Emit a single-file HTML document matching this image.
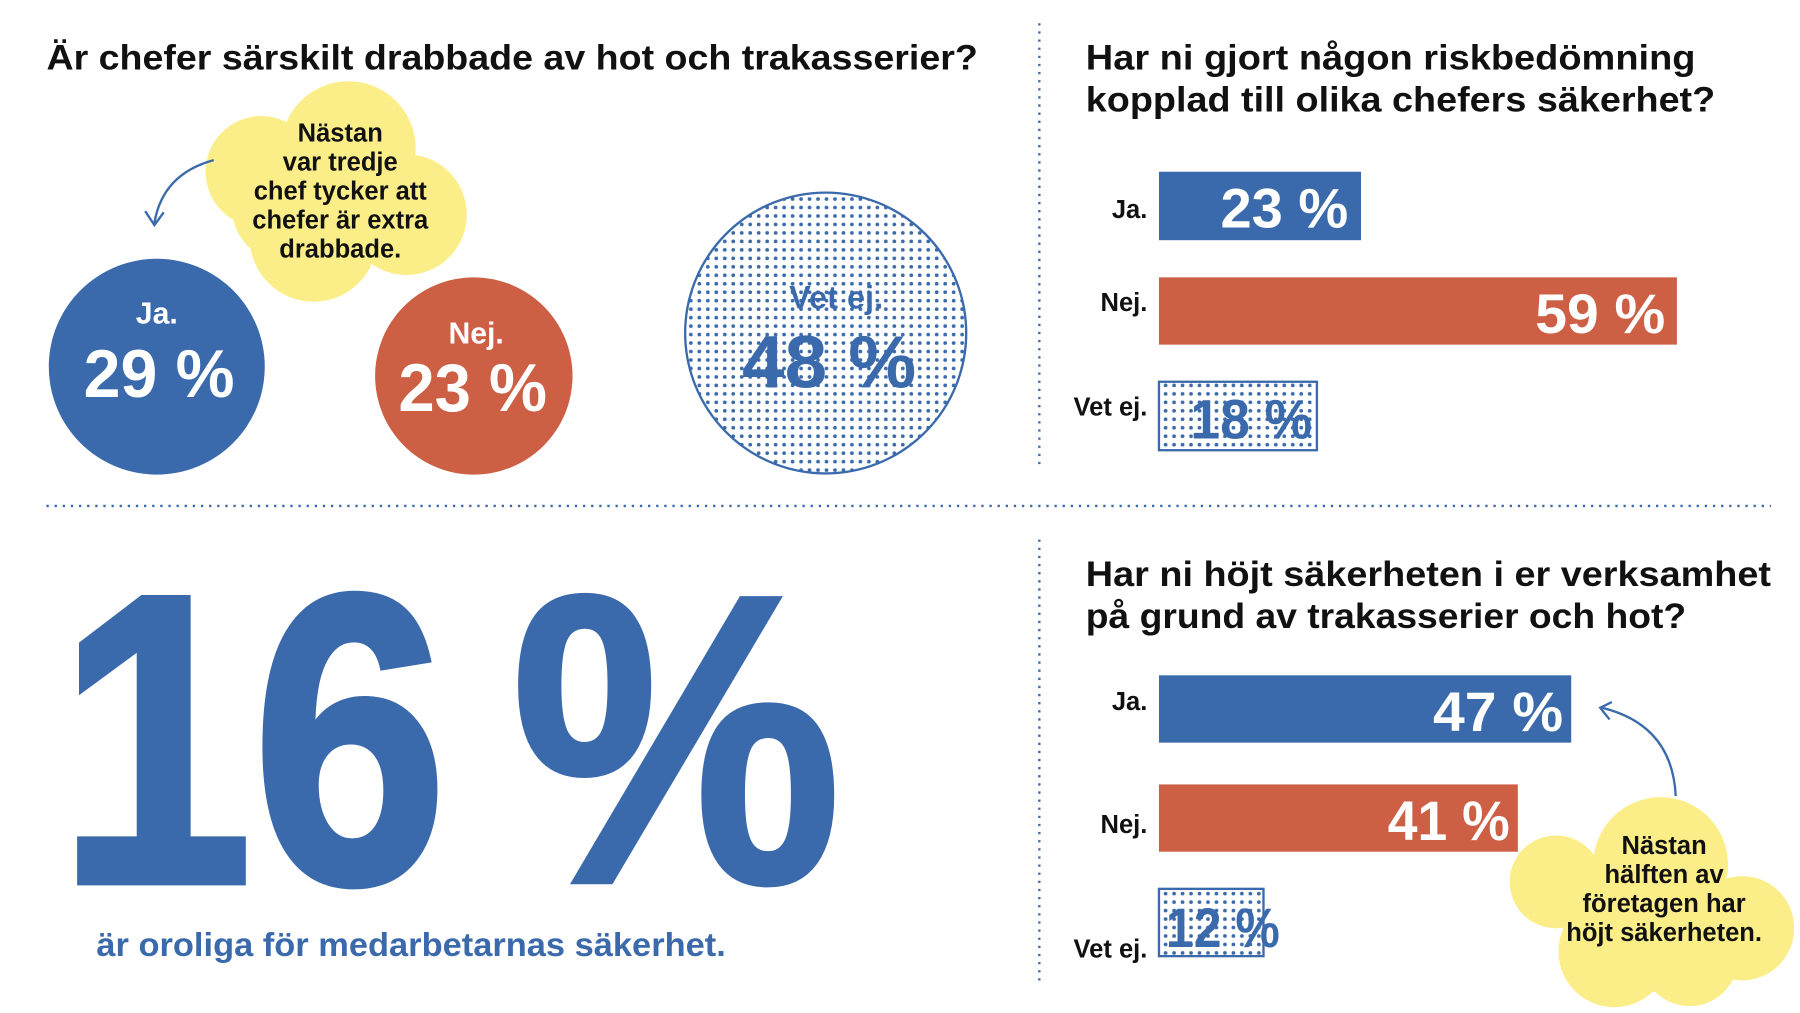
<!DOCTYPE html>
<html><head><meta charset="utf-8"><style>
html,body{margin:0;padding:0;background:#fff;width:1800px;height:1013px;overflow:hidden}
svg{display:block}
text{font-family:"Liberation Sans",sans-serif;font-weight:bold}
</style></head><body>
<svg width="1800" height="1013" viewBox="0 0 1550 873" preserveAspectRatio="none" xmlns="http://www.w3.org/2000/svg">
<defs>
<pattern id="dots" width="7.3" height="7.3" patternUnits="userSpaceOnUse">
<rect width="7.3" height="7.3" fill="#fff"/>
<circle cx="3.6" cy="3.6" r="1.6" fill="#3a6aab"/>
</pattern>
</defs>
<g stroke="#3a6aab" stroke-width="2" stroke-dasharray="2 5" fill="none">
<line x1="895" y1="20" x2="895" y2="405"/>
<line x1="40" y1="436" x2="1525" y2="436"/>
<line x1="895" y1="465" x2="895" y2="850"/>
</g>
<!-- top-left -->
<text x="40" y="60" font-size="30" fill="#111" textLength="802" lengthAdjust="spacingAndGlyphs">Är chefer särskilt drabbade av hot och trakasserier?</text>
<g fill="#fbee88">
<circle cx="225" cy="148" r="48"/><circle cx="300" cy="128" r="58"/><circle cx="350" cy="185" r="52"/>
<circle cx="270" cy="205" r="55"/><circle cx="245" cy="180" r="45"/><circle cx="300" cy="170" r="60"/>
</g>
<g font-size="22" fill="#111" text-anchor="middle">
<text x="293" y="122">Nästan</text>
<text x="293" y="147">var tredje</text>
<text x="293" y="172">chef tycker att</text>
<text x="293" y="197">chefer är extra</text>
<text x="293" y="222">drabbade.</text>
</g>
<path d="M184 138 Q140 150 133 192" stroke="#3a6aab" stroke-width="2" fill="none"/>
<path d="M125 182 L133 194 L141 183" stroke="#3a6aab" stroke-width="2" fill="none"/>
<circle cx="135" cy="316" r="93" fill="#3a6aab"/>
<text x="135" y="279" font-size="26" fill="#fff" text-anchor="middle" font-weight="normal">Ja.</text>
<text x="137" y="342" font-size="58" fill="#fff" text-anchor="middle" textLength="130" lengthAdjust="spacingAndGlyphs">29 %</text>
<circle cx="408" cy="324" r="85" fill="#cd5f45"/>
<text x="410" y="296" font-size="26" fill="#fff" text-anchor="middle" font-weight="normal">Nej.</text>
<text x="407" y="354" font-size="58" fill="#fff" text-anchor="middle" textLength="128" lengthAdjust="spacingAndGlyphs">23 %</text>
<circle cx="711" cy="287" r="121" fill="url(#dots)" stroke="#3a6aab" stroke-width="2"/>
<text x="720" y="266" font-size="28" fill="#3a6aab" text-anchor="middle" font-weight="normal">Vet ej.</text>
<text x="714" y="334" font-size="64" fill="#3a6aab" text-anchor="middle" textLength="150" lengthAdjust="spacingAndGlyphs">48 %</text>
<!-- top-right -->
<text x="935" y="60" font-size="30" fill="#111" textLength="525" lengthAdjust="spacingAndGlyphs">Har ni gjort någon riskbedömning</text>
<text x="935" y="96" font-size="30" fill="#111" textLength="542" lengthAdjust="spacingAndGlyphs">kopplad till olika chefers säkerhet?</text>
<g font-size="22" fill="#111" text-anchor="end" font-weight="normal">
<text x="988" y="188">Ja.</text><text x="988" y="268">Nej.</text><text x="988" y="358">Vet ej.</text>
<text x="988" y="612">Ja.</text><text x="988" y="718">Nej.</text><text x="988" y="825">Vet ej.</text>
</g>
<rect x="998" y="148" width="174" height="59" fill="#3a6aab"/>
<text x="1161" y="196" font-size="48" fill="#fff" text-anchor="end" textLength="110" lengthAdjust="spacingAndGlyphs">23 %</text>
<rect x="998" y="239" width="446" height="58" fill="#cd5f45"/>
<text x="1434" y="287" font-size="48" fill="#fff" text-anchor="end" textLength="112" lengthAdjust="spacingAndGlyphs">59 %</text>
<rect x="998" y="329" width="136" height="59" fill="url(#dots)" stroke="#3a6aab" stroke-width="2"/>
<text x="1130" y="378" font-size="48" fill="#3a6aab" text-anchor="end" textLength="105" lengthAdjust="spacingAndGlyphs">18 %</text>
<!-- bottom-left -->
<text x="50" y="760" font-size="355" fill="#3a6aab" textLength="335" lengthAdjust="spacingAndGlyphs" stroke="#3a6aab" stroke-width="6">16</text>
<text x="440" y="760" font-size="355" fill="#3a6aab" textLength="285" lengthAdjust="spacingAndGlyphs" stroke="#3a6aab" stroke-width="4">%</text>
<text x="83" y="824" font-size="29" fill="#3a6aab" textLength="542" lengthAdjust="spacingAndGlyphs">är oroliga för medarbetarnas säkerhet.</text>
<!-- bottom-right -->
<text x="935" y="505" font-size="30" fill="#111" textLength="590" lengthAdjust="spacingAndGlyphs">Har ni höjt säkerheten i er verksamhet</text>
<text x="935" y="541" font-size="30" fill="#111" textLength="517" lengthAdjust="spacingAndGlyphs">på grund av trakasserier och hot?</text>
<rect x="998" y="582" width="355" height="58" fill="#3a6aab"/>
<text x="1346" y="630" font-size="48" fill="#fff" text-anchor="end" textLength="112" lengthAdjust="spacingAndGlyphs">47 %</text>
<rect x="998" y="676" width="309" height="58" fill="#cd5f45"/>
<text x="1300" y="724" font-size="48" fill="#fff" text-anchor="end" textLength="105" lengthAdjust="spacingAndGlyphs">41 %</text>
<rect x="998" y="766" width="90" height="58" fill="url(#dots)" stroke="#3a6aab" stroke-width="2"/>
<text x="1102" y="816" font-size="48" fill="#3a6aab" text-anchor="end" textLength="98" lengthAdjust="spacingAndGlyphs">12 %</text>
<path d="M1443 686 Q1440 625 1380 610" stroke="#3a6aab" stroke-width="2" fill="none"/>
<path d="M1388 605 L1378 610 L1386 620" stroke="#3a6aab" stroke-width="2" fill="none"/>
<g fill="#fbee88">
<circle cx="1340" cy="760" r="40"/><circle cx="1430" cy="745" r="58"/><circle cx="1500" cy="800" r="45"/>
<circle cx="1390" cy="820" r="48"/><circle cx="1455" cy="825" r="42"/><circle cx="1420" cy="790" r="65"/>
</g>
<g font-size="22" fill="#111" text-anchor="middle">
<text x="1433" y="736">Nästan</text>
<text x="1433" y="761">hälften av</text>
<text x="1433" y="786">företagen har</text>
<text x="1433" y="811">höjt säkerheten.</text>
</g>
</svg>
</body></html>
